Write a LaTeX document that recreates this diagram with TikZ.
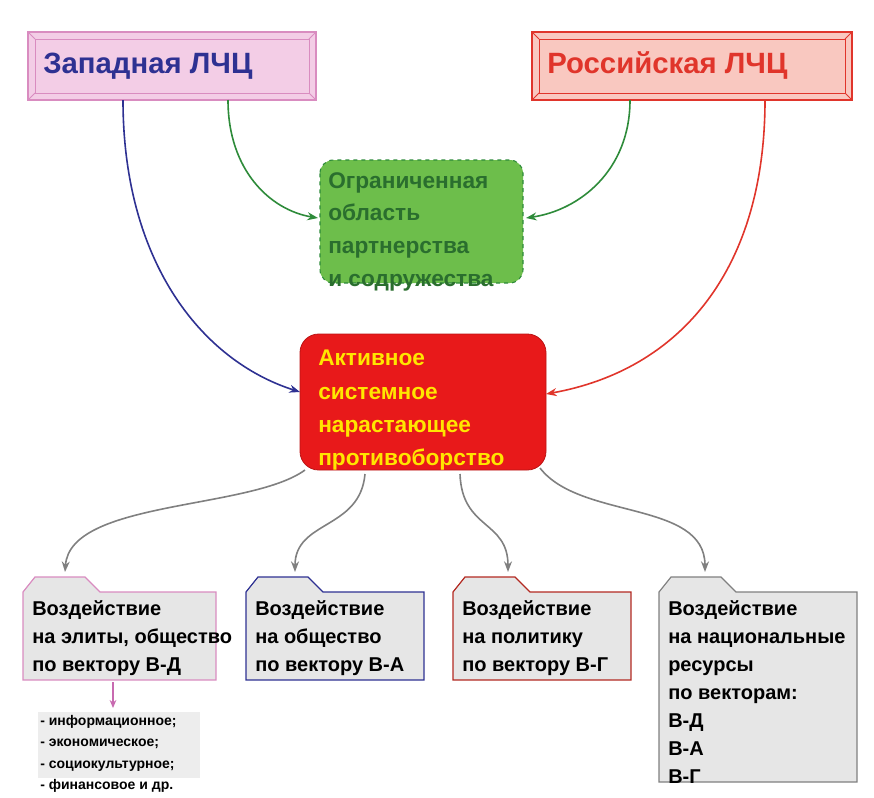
\documentclass[tikz,border=0pt]{standalone}
\usepackage{fontspec}
\setmainfont{Liberation Sans}
\usetikzlibrary{arrows.meta}
\definecolor{wpink}{HTML}{F3CDE6}
\definecolor{wpinkd}{HTML}{D98CC0}
\definecolor{wblue}{HTML}{2E3192}
\definecolor{rsal}{HTML}{F9C8C0}
\definecolor{rred}{HTML}{E0352B}
\definecolor{ggreen}{HTML}{6DBE4B}
\definecolor{ggreend}{HTML}{2E8B3A}
\definecolor{gtext}{HTML}{2A6E2E}
\definecolor{bred}{HTML}{E8191A}
\definecolor{byel}{HTML}{FFE600}
\definecolor{fgray}{HTML}{E6E6E6}
\definecolor{agray}{HTML}{808080}
\definecolor{lpink}{HTML}{C86AB0}
\begin{document}
\begin{tikzpicture}[x=0.75pt,y=-0.75pt,
  txt/.style={font=\bfseries, align=left, anchor=north west, inner sep=0},
  arr/.style={-{Stealth[length=8pt,width=6pt]}, line width=1.2pt},
  folder/.style={fill=fgray, line width=0.9pt}]
\useasboundingbox (0,0) rectangle (874,797);
% top boxes
\draw[fill=wpink, draw=wpinkd, line width=0.8pt] (28,32) rectangle (316,100);
\draw[draw=wpinkd, line width=0.6pt] (35,39) rectangle (309,93);
\foreach \a/\b in {28/35,316/309}{}
\draw[draw=wpinkd,line width=0.6pt] (28,32)--(35,39) (316,32)--(309,39) (28,100)--(35,93) (316,100)--(309,93);
\node[txt, text=wblue, anchor=west, font=\bfseries\fontsize{22}{24}\selectfont] (w) at (43,66) {Западная ЛЧЦ};
\coordinate (W) at (172,66);
\draw[fill=rsal, draw=rred, line width=0.8pt] (532,32) rectangle (852,100);
\draw[draw=rred, line width=0.6pt] (539,39) rectangle (845,93);
\draw[draw=rred,line width=0.6pt] (532,32)--(539,39) (852,32)--(845,39) (532,100)--(539,93) (852,100)--(845,93);
\node[txt, text=rred, anchor=west, font=\bfseries\fontsize{22}{24}\selectfont] (r) at (547,66) {Российская ЛЧЦ};
% green
\node[draw=ggreend, dashed, fill=ggreen, rounded corners=10pt, minimum width=203\pgflinewidth, inner sep=0] (g) at (421.5,221.5) {};
\draw[draw=ggreend, dashed, fill=ggreen, rounded corners=10pt, line width=0.8pt] (320,160) rectangle (523,283);
\node[txt, text=gtext, font=\bfseries\fontsize{17}{24.5}\selectfont] (gt) at (328,172) {Ограниченная\\область\\партнерства\\и содружества};
% red
\draw[fill=bred, draw=bred!80!black, rounded corners=14pt, line width=0.6pt] (300,334) rectangle (546,470);
\node[txt, text=byel, font=\bfseries\fontsize{17}{25}\selectfont] (bt) at (318,350) {Активное\\системное\\нарастающее\\противоборство};
% arrows from top
\coordinate (w1) at (123,100); \coordinate (w2) at (228,100);
\coordinate (r1) at (630,100); \coordinate (r2) at (765,100);
\coordinate (gl) at (318,218); \coordinate (gr) at (526,218);
\coordinate (bl) at (300,392); \coordinate (br) at (546,394);
\draw[arr, draw=wblue] (w1) .. controls (123,260) and (200,360) .. (bl);
\draw[arr, draw=ggreend] (w2) .. controls (228,170) and (270,210) .. (gl);
\draw[arr, draw=ggreend] (r1) .. controls (630,170) and (580,210) .. (gr);
\draw[arr, draw=rred] (r2) .. controls (765,270) and (680,370) .. (br);
% folders
\foreach \x/\xx/\yb/\c [count=\i] in {23/216/680/wpinkd, 246/424/680/wblue, 453/631/680/rred!80!black, 659/857/782/agray}{
  \draw[folder, draw=\c] (\x,\yb) -- (\x,592) -- (\x+12,577) -- (\x+62,577) -- (\x+77,592) -- (\xx,592) -- (\xx,\yb) -- cycle;
}
\node[txt, font=\bfseries\fontsize{15}{21}\selectfont] (f1) at (32,600) {Воздействие\\на элиты, общество\\по вектору В-Д};
\node[txt, font=\bfseries\fontsize{15}{21}\selectfont] (f2) at (255,600) {Воздействие\\на общество\\по вектору В-А};
\node[txt, font=\bfseries\fontsize{15}{21}\selectfont] (f3) at (462,600) {Воздействие\\на политику\\по вектору В-Г};
\node[txt, font=\bfseries\fontsize{15}{21}\selectfont] (f4) at (668,600) {Воздействие\\на национальные\\ресурсы\\по векторам:\\В-Д\\В-А\\В-Г};
% gray arrows
\coordinate (b1) at (305,470); \coordinate (b2) at (365,474); \coordinate (b3) at (460,474); \coordinate (b4) at (540,468);
\coordinate (t1) at (65,572); \coordinate (t2) at (295,572); \coordinate (t3) at (508,572); \coordinate (t4) at (705,572);
\draw[arr, draw=agray] (b1) .. controls (250,510) and (70,500) .. (t1);
\draw[arr, draw=agray] (b2) .. controls (360,530) and (295,520) .. (t2);
\draw[arr, draw=agray] (b3) .. controls (462,530) and (508,520) .. (t3);
\draw[arr, draw=agray] (b4) .. controls (580,520) and (705,500) .. (t4);
% list
\fill[fgray!70] (38,712) rectangle (200,778);
\node[txt, font=\bfseries\fontsize{10.5}{16}\selectfont] (l) at (40,715) {- информационное;\\- экономическое;\\- социокультурное;\\- финансовое и др.};
\coordinate (p1) at (113,682); \coordinate (p2) at (113,708);
\draw[-{Stealth[length=6pt,width=5pt]}, draw=lpink, line width=0.8pt] (p1) -- (p2);
\end{tikzpicture}
\end{document}
